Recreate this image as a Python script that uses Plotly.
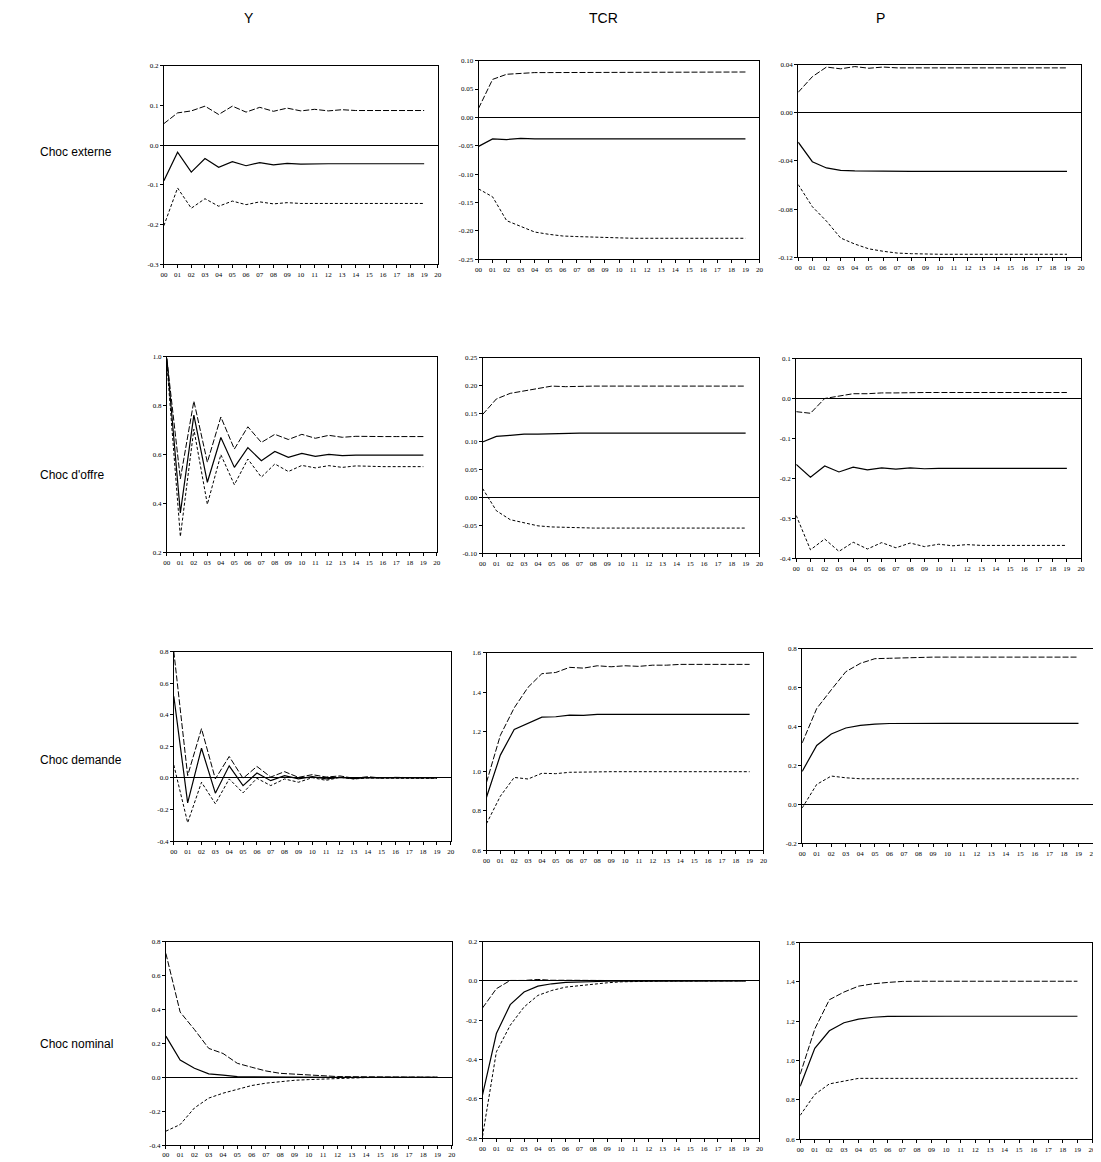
import plotly.graph_objects as go

# ---------------- data ----------------
T = list(range(20))
X_TICK_VALUES = list(range(21))
X_TICK_LABELS = [f"{i:02d}" for i in range(21)]

COLUMN_TITLES = ["Y", "TCR", "P"]
ROW_TITLES = ["Choc externe", "Choc d'offre", "Choc demande", "Choc nominal"]

# Choc externe
ext_Y_up = [0.054, 0.081, 0.086, 0.098, 0.077, 0.098, 0.083, 0.095, 0.085, 0.093,
            0.086, 0.090, 0.086, 0.089, 0.087, 0.087, 0.087, 0.087, 0.087, 0.087]
ext_Y_mid = [-0.090, -0.018, -0.068, -0.034, -0.056, -0.042, -0.052, -0.044, -0.050, -0.046,
             -0.048, -0.047, -0.047, -0.047, -0.047, -0.047, -0.047, -0.047, -0.047, -0.047]
ext_Y_lo = [-0.203, -0.108, -0.159, -0.135, -0.154, -0.141, -0.150, -0.143, -0.148, -0.145,
            -0.147, -0.147, -0.147, -0.147, -0.147, -0.147, -0.147, -0.147, -0.147, -0.147]

ext_TCR_up = [0.016, 0.067, 0.076, 0.078, 0.079, 0.079, 0.079, 0.079, 0.079, 0.079,
              0.079, 0.079, 0.079, 0.079, 0.080, 0.080, 0.080, 0.080, 0.080, 0.080]
ext_TCR_mid = [-0.051, -0.038, -0.039, -0.037, -0.038, -0.038, -0.038, -0.038, -0.038, -0.038,
               -0.038, -0.038, -0.038, -0.038, -0.038, -0.038, -0.038, -0.038, -0.038, -0.038]
ext_TCR_lo = [-0.126, -0.140, -0.182, -0.192, -0.202, -0.206, -0.209, -0.210, -0.211, -0.212,
              -0.212, -0.213, -0.213, -0.213, -0.213, -0.213, -0.213, -0.213, -0.213, -0.213]

ext_P_up = [0.017, 0.030, 0.038, 0.0365, 0.0384, 0.037, 0.038, 0.0373, 0.0373, 0.0373,
            0.0373, 0.0373, 0.0373, 0.0373, 0.0373, 0.0373, 0.0373, 0.0373, 0.0373, 0.0373]
ext_P_mid = [-0.0244, -0.0406, -0.0458, -0.0478, -0.0483, -0.0485, -0.0486, -0.0486, -0.0486, -0.0486,
             -0.0486, -0.0486, -0.0486, -0.0486, -0.0486, -0.0486, -0.0486, -0.0486, -0.0486, -0.0486]
ext_P_lo = [-0.0596, -0.078, -0.090, -0.104, -0.109, -0.113, -0.115, -0.1165, -0.117, -0.1175,
            -0.1175, -0.1175, -0.1175, -0.1175, -0.1175, -0.1175, -0.1175, -0.1175, -0.1175, -0.1175]

# Choc d'offre
off_Y_up = [0.99, 0.50, 0.818, 0.568, 0.753, 0.622, 0.713, 0.649, 0.682, 0.661,
            0.682, 0.666, 0.678, 0.670, 0.674, 0.672, 0.673, 0.673, 0.673, 0.673]
off_Y_mid = [0.993, 0.361, 0.761, 0.486, 0.669, 0.547, 0.628, 0.574, 0.612, 0.588,
             0.604, 0.592, 0.600, 0.595, 0.597, 0.597, 0.597, 0.597, 0.597, 0.597]
off_Y_lo = [0.973, 0.264, 0.703, 0.396, 0.599, 0.476, 0.581, 0.507, 0.561, 0.530,
            0.555, 0.545, 0.554, 0.547, 0.553, 0.550, 0.550, 0.550, 0.550, 0.550]

off_TCR_up = [0.148, 0.176, 0.186, 0.190, 0.195, 0.199, 0.198, 0.199, 0.199, 0.199,
              0.199, 0.199, 0.199, 0.199, 0.199, 0.199, 0.199, 0.199, 0.199, 0.199]
off_TCR_mid = [0.099, 0.109, 0.111, 0.113, 0.113, 0.114, 0.114, 0.115, 0.115, 0.115,
               0.115, 0.115, 0.115, 0.115, 0.115, 0.115, 0.115, 0.115, 0.115, 0.115]
off_TCR_lo = [0.016, -0.024, -0.040, -0.045, -0.051, -0.053, -0.054, -0.055, -0.055, -0.055,
              -0.055, -0.055, -0.055, -0.055, -0.055, -0.055, -0.055, -0.055, -0.055, -0.055]

off_P_up = [-0.033, -0.037, 0.000, 0.006, 0.012, 0.012, 0.014, 0.014, 0.015, 0.015,
            0.015, 0.015, 0.015, 0.015, 0.015, 0.015, 0.015, 0.015, 0.015, 0.015]
off_P_mid = [-0.165, -0.197, -0.169, -0.184, -0.172, -0.179, -0.174, -0.177, -0.174, -0.176,
             -0.175, -0.175, -0.175, -0.175, -0.175, -0.175, -0.175, -0.175, -0.175, -0.175]
off_P_lo = [-0.293, -0.379, -0.352, -0.383, -0.360, -0.377, -0.361, -0.374, -0.362, -0.371,
            -0.365, -0.369, -0.366, -0.368, -0.368, -0.368, -0.368, -0.368, -0.368, -0.368]

# Choc demande
dem_Y_up = [0.800, 0.015, 0.312, -0.006, 0.136, -0.002, 0.073, 0.006, 0.040, 0.004,
            0.021, 0.006, 0.013, -0.002, 0.008, 0.000, 0.004, 0.001, 0.001, 0.001]
dem_Y_mid = [0.517, -0.157, 0.188, -0.096, 0.077, -0.048, 0.031, -0.017, 0.015, -0.006,
             0.008, -0.006, 0.004, -0.004, 0.002, 0.000, 0.000, 0.000, 0.000, 0.000]
dem_Y_lo = [0.082, -0.283, -0.027, -0.163, -0.006, -0.094, -0.002, -0.048, -0.006, -0.027,
            0.002, -0.015, 0.004, -0.006, 0.000, -0.002, -0.002, -0.002, -0.002, -0.002]

dem_TCR_up = [0.943, 1.181, 1.320, 1.424, 1.493, 1.499, 1.525, 1.521, 1.533, 1.528,
              1.533, 1.530, 1.536, 1.536, 1.540, 1.540, 1.540, 1.540, 1.540, 1.540]
dem_TCR_mid = [0.868, 1.081, 1.211, 1.242, 1.273, 1.275, 1.283, 1.282, 1.287, 1.287,
               1.287, 1.287, 1.287, 1.287, 1.287, 1.287, 1.287, 1.287, 1.287, 1.287]
dem_TCR_lo = [0.734, 0.873, 0.968, 0.960, 0.989, 0.987, 0.994, 0.996, 0.997, 0.997,
              0.997, 0.997, 0.997, 0.997, 0.997, 0.997, 0.997, 0.997, 0.997, 0.997]

dem_P_up = [0.315, 0.492, 0.588, 0.681, 0.724, 0.748, 0.750, 0.753, 0.755, 0.756,
            0.756, 0.756, 0.756, 0.756, 0.756, 0.756, 0.756, 0.756, 0.756, 0.756]
dem_P_mid = [0.169, 0.302, 0.361, 0.392, 0.405, 0.412, 0.415, 0.416, 0.416, 0.416,
             0.416, 0.416, 0.416, 0.416, 0.416, 0.416, 0.416, 0.416, 0.416, 0.416]
dem_P_lo = [-0.019, 0.102, 0.145, 0.136, 0.131, 0.131, 0.131, 0.131, 0.131, 0.131,
            0.131, 0.131, 0.131, 0.131, 0.131, 0.131, 0.131, 0.131, 0.131, 0.131]

# Choc nominal
nom_Y_up = [0.730, 0.384, 0.281, 0.170, 0.140, 0.082, 0.059, 0.037, 0.023, 0.018,
            0.012, 0.008, 0.004, 0.003, 0.002, 0.001, 0.001, 0.000, 0.000, 0.000]
nom_Y_mid = [0.242, 0.101, 0.053, 0.020, 0.012, 0.004, 0.002, 0.001, 0.001, 0.000,
             0.000, 0.000, 0.000, 0.000, 0.000, 0.000, 0.000, 0.000, 0.000, 0.000]
nom_Y_lo = [-0.318, -0.279, -0.181, -0.123, -0.094, -0.070, -0.049, -0.035, -0.025, -0.018,
            -0.014, -0.010, -0.006, -0.004, -0.002, -0.001, -0.001, 0.000, 0.000, 0.000]

nom_TCR_up = [-0.138, -0.040, 0.002, 0.002, 0.007, 0.003, 0.003, 0.002, 0.002, 0.001,
              0.001, 0.000, 0.000, 0.000, 0.000, 0.000, 0.000, 0.000, 0.000, 0.000]
nom_TCR_mid = [-0.580, -0.268, -0.121, -0.057, -0.027, -0.015, -0.008, -0.005, -0.003, -0.002,
               -0.001, -0.001, 0.000, 0.000, 0.000, 0.000, 0.000, 0.000, 0.000, 0.000]
nom_TCR_lo = [-0.791, -0.361, -0.226, -0.133, -0.074, -0.049, -0.032, -0.024, -0.015, -0.010,
              -0.005, -0.003, -0.002, -0.001, -0.001, 0.000, 0.000, 0.000, 0.000, 0.000]

nom_P_up = [0.930, 1.160, 1.309, 1.348, 1.378, 1.390, 1.397, 1.402, 1.403, 1.403,
            1.403, 1.403, 1.403, 1.403, 1.403, 1.403, 1.403, 1.403, 1.403, 1.403]
nom_P_mid = [0.869, 1.062, 1.151, 1.192, 1.210, 1.220, 1.224, 1.225, 1.225, 1.225,
             1.225, 1.225, 1.225, 1.225, 1.225, 1.225, 1.225, 1.225, 1.225, 1.225]
nom_P_lo = [0.721, 0.827, 0.881, 0.896, 0.909, 0.909, 0.909, 0.909, 0.909, 0.909,
            0.909, 0.909, 0.909, 0.909, 0.909, 0.909, 0.909, 0.909, 0.909, 0.909]

# y-axis ticks per panel
Y_TICKS = [
    [-0.3, -0.2, -0.1, 0.0, 0.1, 0.2],
    [-0.25, -0.20, -0.15, -0.10, -0.05, 0.00, 0.05, 0.10],
    [-0.12, -0.08, -0.04, 0.00, 0.04],
    [0.2, 0.4, 0.6, 0.8, 1.0],
    [-0.10, -0.05, 0.00, 0.05, 0.10, 0.15, 0.20, 0.25],
    [-0.4, -0.3, -0.2, -0.1, 0.0, 0.1],
    [-0.4, -0.2, 0.0, 0.2, 0.4, 0.6, 0.8],
    [0.6, 0.8, 1.0, 1.2, 1.4, 1.6],
    [-0.2, 0.0, 0.2, 0.4, 0.6, 0.8],
    [-0.4, -0.2, 0.0, 0.2, 0.4, 0.6, 0.8],
    [-0.8, -0.6, -0.4, -0.2, 0.0, 0.2],
    [0.6, 0.8, 1.0, 1.2, 1.4, 1.6],
]
Y_DECIMALS = [1, 2, 2, 1, 2, 1, 1, 1, 1, 1, 1, 1]

PANELS = [
    (ext_Y_up, ext_Y_mid, ext_Y_lo), (ext_TCR_up, ext_TCR_mid, ext_TCR_lo), (ext_P_up, ext_P_mid, ext_P_lo),
    (off_Y_up, off_Y_mid, off_Y_lo), (off_TCR_up, off_TCR_mid, off_TCR_lo), (off_P_up, off_P_mid, off_P_lo),
    (dem_Y_up, dem_Y_mid, dem_Y_lo), (dem_TCR_up, dem_TCR_mid, dem_TCR_lo), (dem_P_up, dem_P_mid, dem_P_lo),
    (nom_Y_up, nom_Y_mid, nom_Y_lo), (nom_TCR_up, nom_TCR_mid, nom_TCR_lo), (nom_P_up, nom_P_mid, nom_P_lo),
]

# ---------------- layout geometry (page pixels) ----------------
OFF = 8  # default page body margin
W, H = 1101 - OFF, 1162 - OFF
BOXES = [  # x0, x1, y_top, y_bottom (page pixels)
    (161, 437, 62, 262), (478, 761, 57, 257), (800, 1085, 61, 255),
    (164, 436, 355, 552), (482, 761, 356, 553), (798, 1085, 357, 558),
    (171, 450, 652, 843), (486, 765, 653, 852), (804, 1097, 649, 845),
    (163, 451, 944, 1149), (482, 761, 944, 1142), (802, 1096, 945, 1143),
]
COL_TITLE_X = [247, 604, 883]
COL_TITLE_Y = 17
ROW_TITLE_X = 40
ROW_TITLE_Y = [151, 476, 763, 1049]


def px(x):
    return (x - OFF) / W


def py(y):
    return 1 - (y - OFF) / H


TICK_FONT = dict(family="Liberation Serif, Times New Roman, serif", size=7, color="black")
LABEL_FONT = "Liberation Sans, Arial, sans-serif"

fig = go.Figure()
layout = dict(
    width=W, height=H, margin=dict(l=0, r=0, t=0, b=0),
    paper_bgcolor="white", plot_bgcolor="white", showlegend=False,
)

for i, (up, mid, lo) in enumerate(PANELS):
    n = i + 1
    xa = "x" if n == 1 else f"x{n}"
    ya = "y" if n == 1 else f"y{n}"
    for vals, dash, width in ((up, "6px,2px", 1.0), (mid, "solid", 1.2), (lo, "3px,2px", 1.0)):
        fig.add_trace(go.Scatter(x=T, y=vals, mode="lines", xaxis=xa, yaxis=ya,
                                 line=dict(color="black", width=width, dash=dash),
                                 hoverinfo="skip"))
    x0, x1, yt, yb = BOXES[i]
    yticks = Y_TICKS[i]
    d = Y_DECIMALS[i]
    layout["xaxis" if n == 1 else f"xaxis{n}"] = dict(
        domain=[px(x0), px(x1)], anchor=ya, range=[0, 20],
        tickvals=X_TICK_VALUES, ticktext=X_TICK_LABELS, tickfont=TICK_FONT,
        ticks="outside", ticklen=3, tickwidth=1, tickcolor="black",
        showline=True, linecolor="black", linewidth=1, mirror=True,
        showgrid=False, zeroline=False, fixedrange=True,
    )
    layout["yaxis" if n == 1 else f"yaxis{n}"] = dict(
        domain=[py(yb), py(yt)], anchor=xa, range=[yticks[0], yticks[-1]],
        tickvals=yticks, ticktext=[f"{v:.{d}f}" for v in yticks], tickfont=TICK_FONT,
        ticks="outside", ticklen=3, tickwidth=1, tickcolor="black",
        showline=True, linecolor="black", linewidth=1, mirror=True,
        showgrid=False, zeroline=True, zerolinecolor="black", zerolinewidth=1,
        fixedrange=True,
    )

annotations = []
for t, x in zip(COLUMN_TITLES, COL_TITLE_X):
    annotations.append(dict(text=t, x=px(x), y=py(COL_TITLE_Y - 3), xref="paper", yref="paper",
                            xanchor="center", yanchor="middle", showarrow=False,
                            font=dict(family=LABEL_FONT, size=14, color="black")))
for t, y in zip(ROW_TITLES, ROW_TITLE_Y):
    annotations.append(dict(text=t, x=px(ROW_TITLE_X - 6), y=py(y - 2), xref="paper", yref="paper",
                            xanchor="left", yanchor="middle", showarrow=False,
                            font=dict(family=LABEL_FONT, size=12, color="black")))
layout["annotations"] = annotations

fig.update_layout(**layout)
fig.write_html("out.html")
